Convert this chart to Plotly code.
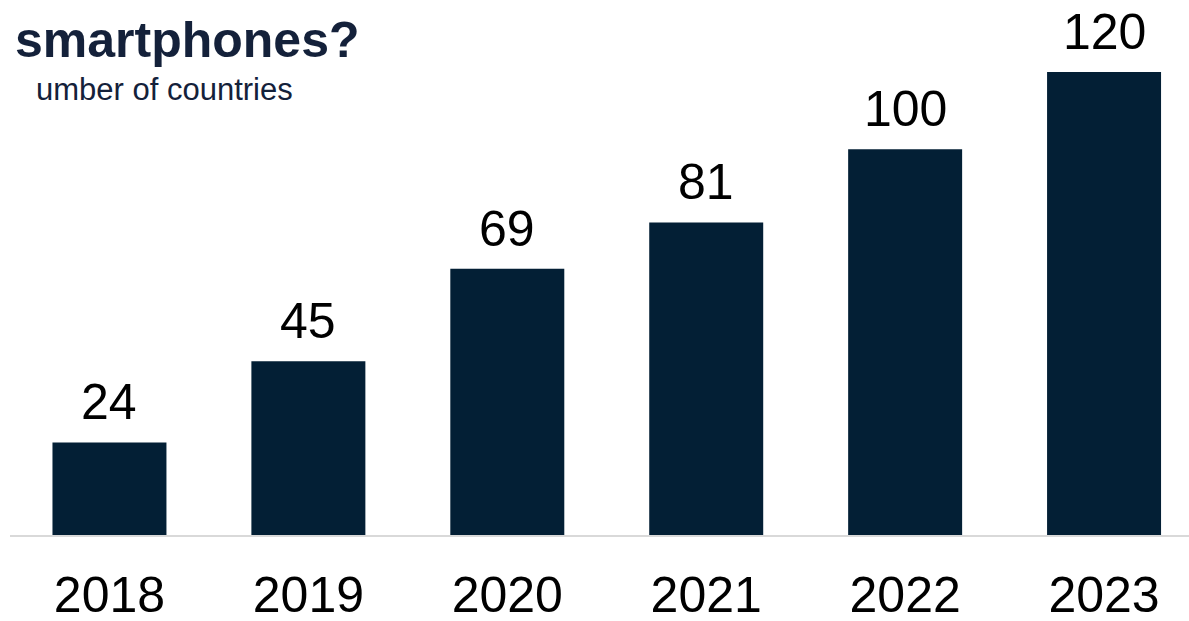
import plotly.graph_objects as go

years = ["2018", "2019", "2020", "2021", "2022", "2023"]
countries = [24, 45, 69, 81, 100, 120]
title_text = "smartphones?"
subtitle_text = "umber of countries"

bar_color = "#031f35"
text_color = "#14213a"
font_family = "Liberation Sans, Arial"

fig = go.Figure()
fig.add_trace(go.Bar(x=years, y=countries, marker=dict(color=bar_color, line=dict(width=0)),
                     width=0.573, hoverinfo="skip"))

for i, v in enumerate(countries):
    fig.add_annotation(x=i, y=v, xref="x", yref="y", text=str(v), showarrow=False,
                       yanchor="bottom", yshift=10,
                       font=dict(family=font_family, size=50, color="#000000"))

fig.add_annotation(xref="paper", yref="paper", x=0.2986, y=0.925, xanchor="right", yanchor="middle",
                   text="<b>" + title_text + "</b>", showarrow=False,
                   font=dict(family=font_family, size=50, color=text_color))
fig.add_annotation(xref="paper", yref="paper", x=0.2417, y=0.832, xanchor="right", yanchor="middle",
                   text=subtitle_text, showarrow=False,
                   font=dict(family=font_family, size=31, color=text_color))

fig.update_layout(
    width=1189, height=621,
    margin=dict(l=10, r=0, t=0, b=86),
    plot_bgcolor="white", paper_bgcolor="white",
    showlegend=False,
    xaxis=dict(type="category", range=[-0.5, 5.427], showgrid=False, showline=True,
               linecolor="#d9d9d9", linewidth=2, ticks="", ticklabelstandoff=15,
               automargin=False,
               tickfont=dict(family=font_family, size=50, color="#000000")),
    yaxis=dict(range=[0, 138.66], showticklabels=False, showline=False, showgrid=False,
               zeroline=False, ticks="", automargin=False),
)

fig.write_html("out.html")
